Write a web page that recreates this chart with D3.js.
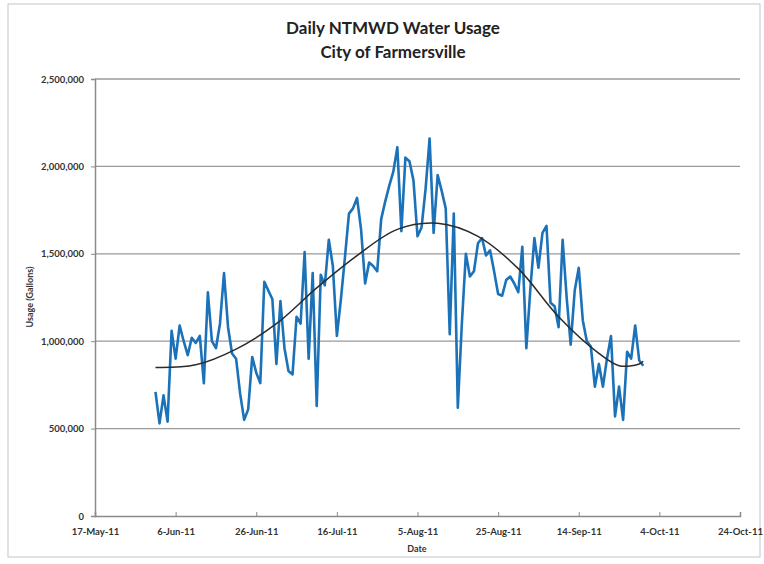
<!DOCTYPE html>
<html>
<head>
<meta charset="utf-8">
<script src="https://cdn.jsdelivr.net/npm/d3@7"></script>
<style>
  body { margin: 0; background: #fff; }
  text { font-family: Lato, "Open Sans", sans-serif; }
</style>
</head>
<body>
<script>
// daily usage, starting 1-Jun-11
var startDate = "2011-06-01";
var usage = [
  710000, 530000, 690000, 540000, 1060000, 900000, 1090000, 1000000, 920000, 1020000,
  990000, 1030000, 760000, 1280000, 1000000, 960000, 1100000, 1390000, 1080000, 930000,
  900000, 700000, 550000, 610000, 910000, 820000, 760000, 1340000, 1290000, 1240000,
  870000, 1230000, 960000, 830000, 810000, 1140000, 1100000, 1510000, 900000, 1390000,
  630000, 1380000, 1320000, 1580000, 1430000, 1030000, 1240000, 1480000, 1730000, 1760000,
  1820000, 1640000, 1330000, 1450000, 1430000, 1400000, 1700000, 1800000, 1890000, 1970000,
  2110000, 1630000, 2050000, 2030000, 1920000, 1600000, 1650000, 1870000, 2160000, 1620000,
  1950000, 1860000, 1760000, 1040000, 1730000, 620000, 1100000, 1500000, 1370000, 1400000,
  1560000, 1590000, 1490000, 1520000, 1400000, 1270000, 1260000, 1350000, 1370000, 1330000,
  1280000, 1540000, 960000, 1300000, 1590000, 1420000, 1620000, 1660000, 1220000, 1200000,
  1080000, 1580000, 1250000, 980000, 1290000, 1420000, 1120000, 1000000, 970000, 740000,
  870000, 740000, 900000, 1030000, 570000, 740000, 550000, 940000, 900000, 1090000,
  890000, 860000
];

// trendline read at a few dates
var trendDates = ["2011-06-01", "2011-06-11", "2011-06-21", "2011-07-01", "2011-07-11",
  "2011-07-21", "2011-07-31", "2011-08-10", "2011-08-20", "2011-08-30", "2011-09-09",
  "2011-09-19", "2011-09-24", "2011-09-29", "2011-09-30"];
var trendValues = [850000, 865000, 955000, 1100000, 1305000, 1490000, 1640000, 1675000,
  1600000, 1415000, 1140000, 930000, 860000, 870000, 885000];

var xTicks = ["2011-05-17", "2011-06-06", "2011-06-26", "2011-07-16", "2011-08-05",
  "2011-08-25", "2011-09-14", "2011-10-04", "2011-10-24"];
var yTicks = [0, 500000, 1000000, 1500000, 2000000, 2500000];

var w = 764, h = 564;
var parse = d3.timeParse("%Y-%m-%d");
var fmtDate = d3.timeFormat("%-d-%b-%y");

var svg = d3.select("body").append("svg")
  .attr("width", w)
  .attr("height", h);

// chart frame
svg.append("rect")
  .attr("x", 8).attr("y", 4)
  .attr("width", 752).attr("height", 553)
  .attr("fill", "none")
  .attr("stroke", "#c4c4c4");

var x = d3.scaleTime()
  .domain([parse(xTicks[0]), parse(xTicks[xTicks.length - 1])])
  .range([95, 740]);
var y = d3.scaleLinear()
  .domain([0, 2500000])
  .range([516, 79]);

// gridlines
svg.selectAll("line.grid")
  .data(yTicks.slice(1))
  .enter().append("line")
  .attr("class", "grid")
  .attr("x1", 95).attr("x2", 740)
  .attr("y1", function(d) { return y(d); })
  .attr("y2", function(d) { return y(d); })
  .style("stroke", "#9a9a9a")
  .style("stroke-width", 1.3);

var yAxis = svg.append("g")
  .attr("transform", "translate(95,0)")
  .call(d3.axisLeft(y).tickValues(yTicks).tickFormat(d3.format(",")).tickSize(4).tickPadding(7));

var xAxis = svg.append("g")
  .attr("transform", "translate(0,516)")
  .call(d3.axisBottom(x).tickValues(xTicks.map(parse)).tickFormat(fmtDate).tickSize(-4).tickPadding(12));

[yAxis, xAxis].forEach(function(g) {
  g.select(".domain").style("stroke", "#8a8a8a").style("stroke-width", 1.5);
  g.selectAll(".tick line").style("stroke", "#8a8a8a");
  g.selectAll("text")
    .style("font-family", "Lato, sans-serif")
    .style("font-weight", "bold")
    .style("font-size", "9.5px")
    .style("fill", "#333");
});

// usage line
var t0 = parse(startDate);
var series = usage.map(function(v, i) { return { date: d3.timeDay.offset(t0, i), value: v }; });

var line = d3.line()
  .x(function(d) { return x(d.date); })
  .y(function(d) { return y(d.value); });

svg.append("path")
  .datum(series)
  .attr("d", line)
  .attr("fill", "none")
  .attr("stroke", "#1b72b8")
  .attr("stroke-width", 2.6)
  .attr("stroke-linejoin", "round");

// trendline
var trend = trendDates.map(function(d, i) { return { date: parse(d), value: trendValues[i] }; });
svg.append("path")
  .datum(trend)
  .attr("d", line.curve(d3.curveCatmullRom))
  .attr("fill", "none")
  .attr("stroke", "#2b2b2b")
  .attr("stroke-width", 1.5);

// titles
svg.append("text")
  .attr("x", 393).attr("y", 34)
  .attr("text-anchor", "middle")
  .style("font-size", "17px").style("font-weight", "bold").style("fill", "#222")
  .text("Daily NTMWD Water Usage");
svg.append("text")
  .attr("x", 393).attr("y", 58)
  .attr("text-anchor", "middle")
  .style("font-size", "17px").style("font-weight", "bold").style("fill", "#222")
  .text("City of Farmersville");

svg.append("text")
  .attr("transform", "translate(33,297) rotate(-90)")
  .attr("text-anchor", "middle")
  .style("font-size", "9px").style("font-weight", "bold").style("fill", "#333")
  .text("Usage (Gallons)");

svg.append("text")
  .attr("x", 417).attr("y", 552)
  .attr("text-anchor", "middle")
  .style("font-size", "9px").style("font-weight", "bold").style("fill", "#333")
  .text("Date");
</script>
</body>
</html>
